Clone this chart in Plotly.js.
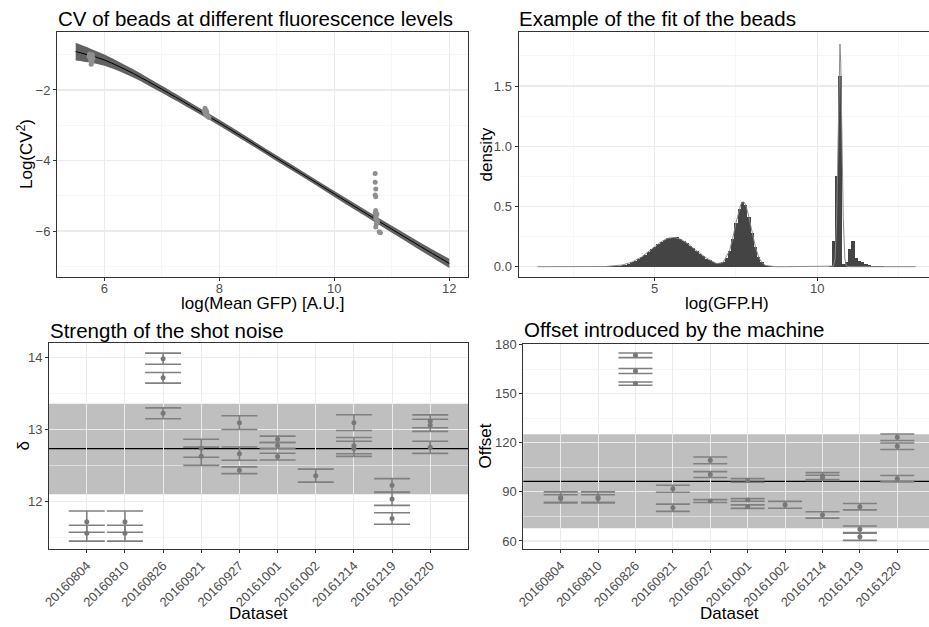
<!DOCTYPE html>
<html>
<head>
<meta charset="utf-8">
<script src="https://cdn.plot.ly/plotly-3.0.1.min.js"></script>
<style>
  html, body { margin: 0; padding: 0; background: #ffffff; }
  #chart { width: 929px; height: 627px; }
</style>
</head>
<body>
<div id="chart"></div>
<script>
// ---------- Panel A: CV of beads at different fluorescence levels ----------
const cvPointsX = [5.74, 5.76, 5.78, 5.75, 5.77, 5.79, 5.76, 5.78, 5.77, 5.80, 5.73,
                   7.75, 7.77, 7.78, 7.76, 7.79, 7.80, 7.77, 7.82, 7.74,
                   10.71, 10.71, 10.72, 10.71, 10.72, 10.72, 10.71, 10.73, 10.72, 10.74, 10.73, 10.72, 10.75, 10.78, 10.80, 10.74];
const cvPointsY = [-0.98, -1.02, -1.05, -1.08, -1.12, -1.00, -1.15, -1.20, -1.27, -1.10, -1.05,
                   -2.52, -2.58, -2.62, -2.66, -2.70, -2.75, -2.72, -2.78, -2.60,
                   -4.37, -4.62, -4.81, -4.98, -5.03, -5.42, -5.49, -5.56, -5.63, -5.70, -5.80, -5.89, -5.75, -6.02, -6.05, -5.52];
const fitX     = [5.5, 5.75, 6, 6.25, 6.5, 6.75, 7, 7.5, 8, 8.5, 9, 9.5, 10, 10.5, 11, 11.5, 12];
const fitY     = [-0.91, -1.02, -1.15, -1.33, -1.53, -1.75, -1.98, -2.45, -2.93, -3.43, -3.94, -4.44, -4.95, -5.45, -5.95, -6.44, -6.92];
const fitUpper = [-0.66, -0.82, -0.99, -1.20, -1.415, -1.645, -1.88, -2.36, -2.845, -3.35, -3.86, -4.36, -4.865, -5.36, -5.85, -6.33, -6.79];
const fitLower = [-1.16, -1.22, -1.31, -1.46, -1.645, -1.855, -2.08, -2.54, -3.015, -3.51, -4.02, -4.52, -5.035, -5.54, -6.05, -6.55, -7.05];

// ---------- Panel B: Example of the fit of the beads ----------
const histFirstCenter = 1.4;
const histBinWidth = 0.1;
const histDensity = [
  0, 0, 0, 0, 0, 0, 0, 0, 0, 0,
  0, 0.001, 0, 0.001, 0, 0.001, 0.001, 0, 0.002, 0.001,
  0.002, 0.002, 0.003, 0.005, 0.006, 0.009, 0.013, 0.018, 0.026, 0.035,
  0.047, 0.063, 0.08, 0.1, 0.122, 0.144, 0.166, 0.19, 0.208, 0.224,
  0.236, 0.242, 0.247, 0.25, 0.233, 0.216, 0.195, 0.175, 0.152, 0.128,
  0.105, 0.085, 0.068, 0.052, 0.04, 0.031, 0.028, 0.038, 0.07, 0.13,
  0.23, 0.36, 0.48, 0.535, 0.51, 0.41, 0.28, 0.165, 0.08, 0.035,
  0.013, 0.005, 0.002, 0.001, 0.001,
  0, 0, 0, 0, 0, 0, 0, 0, 0, 0, 0, 0, 0, 0, 0,
  0.01, 0.21, 0.75, 1.58, 0.02, 0.04, 0.15, 0.21, 0.075, 0.05,
  0.035, 0.02, 0.015, 0.01, 0.006, 0.004, 0.002,
  0, 0, 0, 0, 0, 0, 0, 0, 0, 0
];
const gaussX = [1.39, 3.0, 3.5, 4.0, 4.3, 4.6, 4.9, 5.2, 5.4, 5.6,
                5.8, 6.0, 6.3, 6.6, 6.9, 7.1, 7.3, 7.4, 7.5, 7.6,
                7.65, 7.7, 7.75, 7.8, 7.85, 7.9, 7.95, 8.0, 8.1, 8.2,
                8.3, 8.4, 8.7, 9.0, 10.45, 10.5, 10.55, 10.6, 10.625, 10.65,
                10.675, 10.7, 10.725, 10.75, 10.775, 10.8, 10.85, 10.9, 11.0, 13.03];
const gaussY = [0, 0.0001, 0.0017, 0.014, 0.038, 0.082, 0.145, 0.208, 0.236, 0.243,
                0.228, 0.195, 0.13, 0.07, 0.026, 0.034, 0.131, 0.235, 0.364, 0.481,
                0.518, 0.538, 0.536, 0.512, 0.469, 0.412, 0.347, 0.281, 0.162, 0.079,
                0.033, 0.0115, 0.0002, 0, 0, 0.005, 0.065, 0.418, 0.801, 1.275,
                1.685, 1.849, 1.685, 1.275, 0.801, 0.418, 0.065, 0.005, 0, 0];

// ---------- Panel C: Strength of the shot noise ----------
const datasets = ['20160804', '20160810', '20160826', '20160921', '20160927',
                  '20161001', '20161002', '20161214', '20161219', '20161220'];
const deltaDataset = ['20160804', '20160804', '20160810', '20160810',
                      '20160826', '20160826', '20160826', '20160921', '20160921',
                      '20160927', '20160927', '20160927', '20161001', '20161001', '20161001',
                      '20161002', '20161214', '20161214', '20161214',
                      '20161219', '20161219', '20161219', '20161220', '20161220', '20161220'];
const deltaValue = [11.72, 11.56, 11.72, 11.56,
                    13.986, 13.72, 13.226, 12.74, 12.63,
                    13.097, 12.666, 12.435, 12.865, 12.78, 12.625,
                    12.36, 13.097, 12.777, 12.733,
                    12.226, 12.036, 11.764, 13.115, 13.06, 12.754];
const deltaError = [0.148, 0.11, 0.148, 0.11,
                    0.078, 0.074, 0.076, 0.125, 0.127,
                    0.095, 0.093, 0.047, 0.045, 0.04, 0.047,
                    0.09, 0.11, 0.113, 0.105,
                    0.093, 0.09, 0.08, 0.09, 0.085, 0.085];
const deltaBandLow = 12.10, deltaBandHigh = 13.36, deltaMean = 12.736;

// ---------- Panel D: Offset introduced by the machine ----------
const offsetDataset = deltaDataset;
const offsetValue = [86.6, 86.0, 86.6, 86.0,
                     173.5, 163.9, 156.2, 91.9, 80.3,
                     109.3, 100.6, 84.4, 97.0, 85.1, 81.0,
                     82.1, 99.7, 98.6, 75.9,
                     80.95, 67.2, 62.6, 123.4, 117.9, 98.05];
const offsetError = [3.4, 2.3, 3.4, 2.3,
                     1.4, 1.5, 1.0, 2.15, 2.2,
                     2.05, 1.8, 0.9, 1.1, 0.8, 1.05,
                     2.1, 2.1, 1.6, 1.95,
                     1.95, 2.0, 2.2, 2.0, 2.0, 1.95];
const offsetBandLow = 67.8, offsetBandHigh = 125.3, offsetMean = 96.4;

// ---------- layout helpers ----------
const W = 929, H = 627;
const FAMILY = 'Liberation Sans, Arial, Helvetica, sans-serif';
const dx = (a, b) => [a / W, Math.min(b / W, 1)];
const dy = (top, bottom) => [(H - bottom) / H, (H - top) / H];
const tickFont = {family: FAMILY, size: 13, color: '#4d4d4d'};
const axTitleFont = {family: FAMILY, size: 17, color: '#000000'};

function axis(extra) {
  return Object.assign({
    showline: true, linecolor: '#333333', linewidth: 1, mirror: true,
    ticks: 'outside', ticklen: 3, tickwidth: 1, tickcolor: '#333333',
    showgrid: true, gridcolor: '#ebebeb', gridwidth: 1.1,
    zeroline: false, tickfont: tickFont, automargin: false, fixedrange: true
  }, extra);
}
const minorGrid = d => ({dtick: d, showgrid: true, gridcolor: '#f0f0f0', gridwidth: 0.6, ticks: ''});

const histCenters = histDensity.map((_, i) => histFirstCenter + i * histBinWidth);

const traces = [
  // Panel A
  {x: fitX, y: fitUpper, xaxis: 'x', yaxis: 'y', mode: 'lines', line: {width: 0, shape: 'spline'},
   hoverinfo: 'skip', showlegend: false},
  {x: fitX, y: fitLower, xaxis: 'x', yaxis: 'y', mode: 'lines', line: {width: 0, shape: 'spline'},
   fill: 'tonexty', fillcolor: '#626262', hoverinfo: 'skip', showlegend: false},
  {x: fitX, y: fitY, xaxis: 'x', yaxis: 'y', mode: 'lines', line: {color: '#000000', width: 1, shape: 'spline'},
   showlegend: false},
  {x: cvPointsX, y: cvPointsY, xaxis: 'x', yaxis: 'y', mode: 'markers',
   marker: {color: '#8f8f8f', size: 5}, showlegend: false},
  // Panel B
  {type: 'bar', x: histCenters, y: histDensity, width: histBinWidth, xaxis: 'x2', yaxis: 'y2',
   marker: {color: '#444444', line: {width: 0}}, showlegend: false},
  {x: gaussX, y: gaussY, xaxis: 'x2', yaxis: 'y2', mode: 'lines',
   line: {color: '#8a8a8a', width: 1}, showlegend: false},
  // Panel C
  {x: deltaDataset, y: deltaValue, xaxis: 'x3', yaxis: 'y3', mode: 'markers',
   marker: {color: '#787878', size: 5},
   error_y: {type: 'data', array: deltaError, visible: true, color: '#808080', thickness: 1.6, width: 18},
   showlegend: false},
  // Panel D
  {x: offsetDataset, y: offsetValue, xaxis: 'x4', yaxis: 'y4', mode: 'markers',
   marker: {color: '#787878', size: 5},
   error_y: {type: 'data', array: offsetError, visible: true, color: '#808080', thickness: 1.6, width: 17},
   showlegend: false}
];

const titleAnn = (text, xpx, ypx) => ({
  text: text, xref: 'paper', yref: 'paper', x: xpx / W, y: (H - ypx) / H,
  xanchor: 'left', yanchor: 'middle', showarrow: false,
  font: {family: FAMILY, size: 20.5, color: '#000000'}
});
const axisTitleAnn = (text, xpx, ypx, angle) => ({
  text: text, xref: 'paper', yref: 'paper', x: xpx / W, y: (H - ypx) / H,
  xanchor: 'center', yanchor: 'middle', showarrow: false, textangle: angle || 0,
  font: axTitleFont
});

const layout = {
  width: W, height: H,
  margin: {l: 0, r: 0, t: 0, b: 0},
  paper_bgcolor: '#ffffff', plot_bgcolor: '#ffffff',
  showlegend: false, bargap: 0,
  font: {family: FAMILY},
  xaxis: axis({domain: dx(57, 468), range: [5.175, 12.325], tick0: 0, dtick: 2, minor: minorGrid(1),
               ticklabelstandoff: -4, anchor: 'y'}),
  yaxis: axis({domain: dy(32, 277), range: [-7.305, -0.355], tick0: 0, dtick: 2, minor: minorGrid(1),
               anchor: 'x'}),
  xaxis2: axis({domain: dx(518.5, 929), range: [0.808, 13.44], tick0: 0, dtick: 5, minor: minorGrid(2.5),
                ticklabelstandoff: -4, anchor: 'y2'}),
  yaxis2: axis({domain: dy(32.3, 277.3), range: [-0.088, 1.946], tick0: 0, dtick: 0.5, tickformat: '.1f',
                minor: minorGrid(0.25), mirror: false, anchor: 'x2'}),
  xaxis3: axis({domain: dx(49, 468), type: 'category', categoryorder: 'array', categoryarray: datasets,
                range: [-0.99, 9.99], tickangle: -45, anchor: 'y3'}),
  yaxis3: axis({domain: dy(343.3, 549), range: [11.34, 14.2], tick0: 0, dtick: 1, minor: minorGrid(0.5),
                anchor: 'x3'}),
  xaxis4: axis({domain: dx(523.3, 929), type: 'category', categoryorder: 'array', categoryarray: datasets,
                range: [-0.999, 9.848], tickangle: -45, anchor: 'y4'}),
  yaxis4: axis({domain: dy(344, 549), range: [55.1, 180.4], tick0: 0, dtick: 30, minor: minorGrid(15),
                mirror: false, anchor: 'x4'}),
  shapes: [
    {type: 'rect', xref: 'x3 domain', x0: 0, x1: 1, yref: 'y3', y0: deltaBandLow, y1: deltaBandHigh,
     fillcolor: '#bfbfbf', line: {width: 0}, layer: 'below'},
    {type: 'line', xref: 'x3 domain', x0: 0, x1: 1, yref: 'y3', y0: deltaMean, y1: deltaMean,
     line: {color: '#000000', width: 1.3}, layer: 'below'},
    {type: 'rect', xref: 'x4 domain', x0: 0, x1: 1, yref: 'y4', y0: offsetBandLow, y1: offsetBandHigh,
     fillcolor: '#bfbfbf', line: {width: 0}, layer: 'below'},
    {type: 'line', xref: 'x4 domain', x0: 0, x1: 1, yref: 'y4', y0: offsetMean, y1: offsetMean,
     line: {color: '#000000', width: 1.3}, layer: 'below'}
  ],
  annotations: [
    titleAnn('CV of beads at different fluorescence levels', 55.5, 18.8),
    titleAnn('Example of the fit of the beads', 517, 18.3),
    titleAnn('Strength of the shot noise', 47.5, 330),
    titleAnn('Offset introduced by the machine', 522, 329.7),
    axisTitleAnn('log(Mean GFP) [A.U.]', 262.5, 303),
    axisTitleAnn('log(GFP.H)', 726.5, 303),
    axisTitleAnn('Dataset', 258.5, 613),
    axisTitleAnn('Dataset', 729, 613),
    axisTitleAnn('Log(CV<sup>2</sup>)', 24.5, 154.5, -90),
    axisTitleAnn('density', 485.5, 155, -90),
    axisTitleAnn('δ', 22.5, 446, -90),
    axisTitleAnn('Offset', 484.5, 446, -90)
  ]
};

Plotly.newPlot('chart', traces, layout, {staticPlot: true, displayModeBar: false});
</script>
</body>
</html>
